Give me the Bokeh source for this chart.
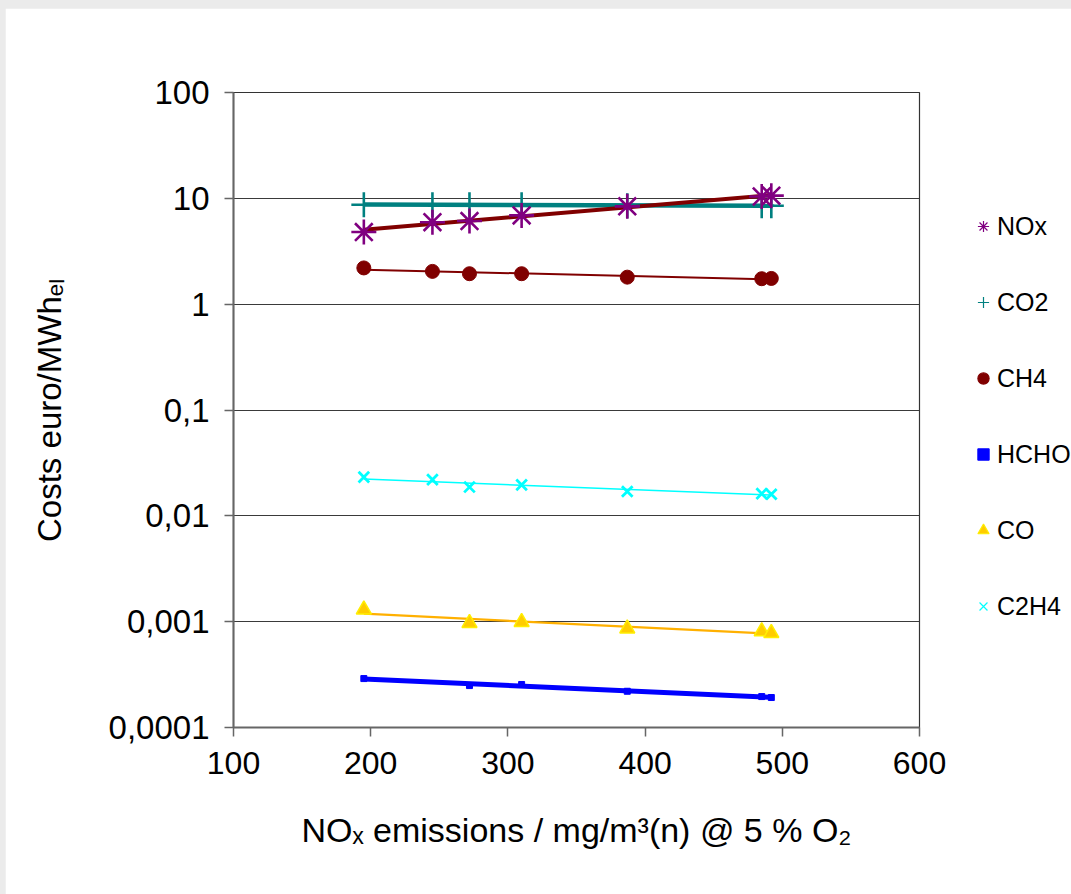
import numpy as np
from bokeh.plotting import figure
from bokeh.layouts import column
from bokeh.models import Range1d, FixedTicker, Legend, LegendItem
from bokeh.embed import file_html
from bokeh.resources import INLINE

# ---- data ----
nox_emission = [195, 245, 272, 310, 387, 485, 492]
cost_nox = [4.8, 5.95, 6.1, 6.9, 8.4, 10.4, 10.6]
cost_co2 = [8.7, 8.7, 8.7, 8.7, 8.5, 8.5, 8.5]
cost_ch4 = [2.2, 2.04, 1.94, 1.94, 1.80, 1.74, 1.75]
cost_hcho = [2.9e-4, float("nan"), 2.49e-4, 2.55e-4, 2.2e-4, 1.96e-4, 1.92e-4]
cost_co = [1.30e-3, float("nan"), 0.97e-3, 0.99e-3, 0.86e-3, 0.81e-3, 0.78e-3]
cost_c2h4 = [0.0232, 0.0220, 0.0187, 0.0196, 0.0170, 0.0162, 0.0160]

series_names = ["NOx", "CO2", "CH4", "HCHO", "CO", "C2H4"]

y_ticks = [1e-4, 1e-3, 1e-2, 1e-1, 1, 10, 100]
y_tick_labels = ["0,0001", "0,001", "0,01", "0,1", "1", "10", "100"]
x_ticks = [100, 200, 300, 400, 500, 600]

FONT = "Liberation Sans"

p = figure(
    frame_width=686, frame_height=635,
    min_border_left=228, min_border_right=152, min_border_top=84, min_border_bottom=167,
    x_range=Range1d(100, 600), y_range=Range1d(1e-4, 100),
    y_axis_type="log", output_backend="svg", toolbar_location=None,
    background_fill_color="white", border_fill_color="white",
)
p.styles = {"margin-left": "5px", "margin-top": "8px"}
p.outline_line_color = "#333333"
p.outline_line_width = 1.2
p.xgrid.grid_line_color = None
p.ygrid.grid_line_color = "#3a3a3a"
p.ygrid.grid_line_width = 1.2

p.yaxis.ticker = FixedTicker(ticks=y_ticks, minor_ticks=[])
p.yaxis.major_label_overrides = {t: l for t, l in zip(y_ticks, y_tick_labels)}
p.xaxis.ticker = FixedTicker(ticks=x_ticks, minor_ticks=[])

for ax in (p.xaxis[0], p.yaxis[0]):
    ax.axis_line_color = "#666666"
    ax.axis_line_width = 2
    ax.major_tick_line_color = "#666666"
    ax.major_tick_line_width = 1.5
    ax.major_tick_out = 9
    ax.major_tick_in = 0
    ax.minor_tick_line_color = None
    ax.major_label_text_font = FONT
    ax.major_label_text_color = "black"
    ax.axis_label_text_font = FONT
    ax.axis_label_text_font_style = "normal"
    ax.axis_label_text_color = "black"
    ax.major_label_standoff = 15

p.xaxis.major_label_text_font_size = "32px"
p.yaxis.major_label_text_font_size = "33px"
p.yaxis.axis_label = "Costs euro/MWh\u2091\u2097"
p.yaxis.axis_label_text_font_size = "33px"
p.yaxis.axis_label_standoff = 38
p.xaxis.axis_label = "NO\u2093 emissions / mg/m\u00b3(n) @ 5 % O\u2082"
p.xaxis.axis_label_text_font_size = "34px"
p.xaxis.axis_label_standoff = 34

xs = np.array(nox_emission, dtype=float)


def trend(vals):
    v = np.array(vals, dtype=float)
    m = ~np.isnan(v)
    k, b = np.polyfit(xs[m], np.log10(v[m]), 1)
    xx = np.array([xs[m].min(), xs[m].max()])
    return xx, 10 ** (k * xx + b)


styles = {
    "NOx": dict(vals=cost_nox, line="#800000", lw=4, marker="asterisk", size=25, fill="#800080", mline="#800080", mlw=2.6),
    "CO2": dict(vals=cost_co2, line="#008080", lw=4.5, marker="cross", size=25, fill="#008080", mline="#008080", mlw=2.6),
    "CH4": dict(vals=cost_ch4, line="#800000", lw=2, marker="circle", size=14, fill="#800000", mline="#800000", mlw=1),
    "HCHO": dict(vals=cost_hcho, line="#0000ff", lw=5, marker="square", size=6, fill="#0000ff", mline="#0000ff", mlw=1),
    "CO": dict(vals=cost_co, line="#ffb000", lw=2.2, marker="triangle", size=15, fill="#ffcc00", mline="#ffee00", mlw=1.5),
    "C2H4": dict(vals=cost_c2h4, line="#00ffff", lw=1.5, marker="x", size=15, fill="#00ffff", mline="#00ffff", mlw=2.8),
}

# draw trend lines first (bottom layer), then markers
draw_order = ["C2H4", "CO", "HCHO", "CH4", "CO2", "NOx"]
for name in draw_order:
    st = styles[name]
    tx, ty = trend(st["vals"])
    p.line(tx, ty, line_color=st["line"], line_width=st["lw"])

legend_renderers = {}
for name in draw_order:
    st = styles[name]
    p.scatter(xs, st["vals"], marker=st["marker"], size=st["size"],
              fill_color=st["fill"], line_color=st["mline"], line_width=st["mlw"])
    lr = p.scatter([np.nan], [np.nan], marker=st["marker"], size=10,
                   fill_color=st["fill"], line_color=st["mline"], line_width=1.2)
    legend_renderers[name] = lr

items = [LegendItem(label=n, renderers=[legend_renderers[n]]) for n in series_names]
legend = Legend(items=items, location=(50, 106))
legend.background_fill_alpha = 0
legend.border_line_color = None
legend.padding = 0
legend.margin = 0
legend.label_text_font = FONT
legend.label_text_font_size = "25px"
legend.label_text_color = "black"
legend.label_height = 30
legend.glyph_height = 30
legend.glyph_width = 28
legend.label_standoff = 0
legend.spacing = 46
p.add_layout(legend, "right")

layout = column(p, styles={"background-color": "#ebebeb"})

open("out.html", "w").write(file_html(layout, INLINE))
